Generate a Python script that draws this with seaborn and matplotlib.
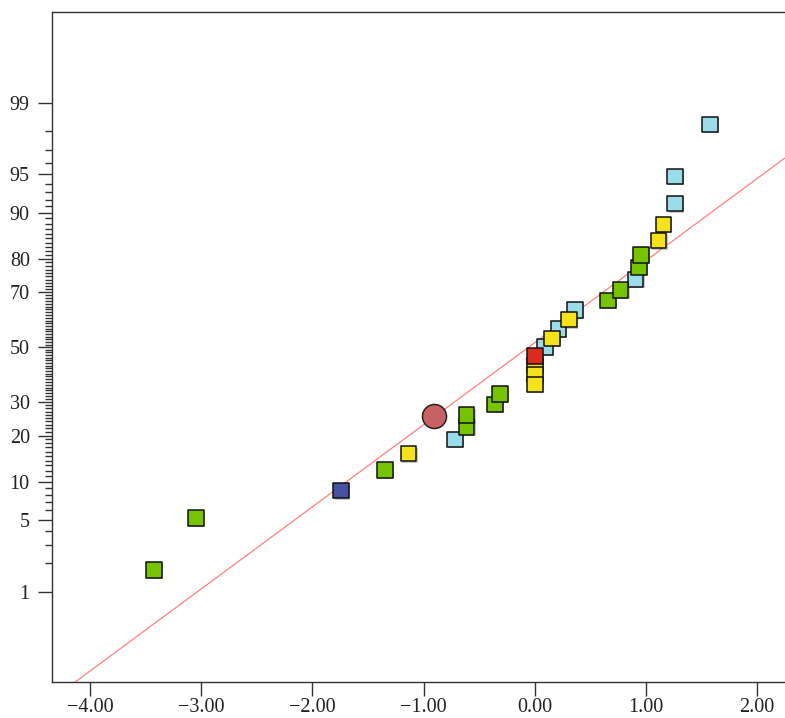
import numpy as np
import pandas as pd
import matplotlib
matplotlib.use("Agg")
import matplotlib.pyplot as plt
import matplotlib.patheffects as pe
from matplotlib.ticker import FixedLocator, FixedFormatter, FuncFormatter
import seaborn as sns
from statistics import NormalDist

# ---- data ----
x_values = [-3.425, -3.048, -1.744, -1.348, -1.135, -0.719, -0.613, -0.613,
            -0.359, -0.314, 0.000, 0.000, 0.000, 0.000, 0.091, 0.154,
            0.211, 0.307, 0.361, 0.657, 0.771, 0.906, 0.936, 0.954,
            1.113, 1.155, 1.260, 1.260, 1.575]
cum_percent = [1.7, 5.2, 8.6, 12.1, 15.5, 19.0, 22.4, 25.9,
               29.3, 32.8, 36.2, 39.7, 43.1, 46.6, 50.0, 53.4,
               56.9, 60.3, 63.8, 67.2, 70.7, 74.1, 77.6, 81.0,
               84.5, 87.9, 91.4, 94.8, 98.3]
groups = ["green", "green", "blue", "green", "yellow", "lightblue", "green", "green",
          "green", "green", "yellow", "yellow", "yellow", "red", "lightblue", "yellow",
          "lightblue", "yellow", "lightblue", "green", "green", "lightblue", "green", "green",
          "yellow", "yellow", "lightblue", "lightblue", "lightblue"]
highlight_x = [-0.907]
highlight_percent = [25.6]
fit_mean = -0.055
fit_sd = 1.28

major_percent = [1, 5, 10, 20, 30, 50, 70, 80, 90, 95, 99]
x_ticks = [-4, -3, -2, -1, 0, 1, 2]

palette = {"green": "#76C400", "lightblue": "#9ADCEA", "yellow": "#F6E21A",
           "red": "#DC2B1C", "blue": "#4651A3"}
layer = {"lightblue": 0, "green": 1, "yellow": 2, "red": 3, "blue": 4}

# ---- probability scale ----
_nd = NormalDist()
_ppf = np.vectorize(_nd.inv_cdf, otypes=[float])
_cdf = np.vectorize(_nd.cdf, otypes=[float])


def fwd(p):
    p = np.clip(np.asarray(p, dtype=float) / 100.0, 1e-12, 1 - 1e-12)
    return _ppf(p)


def inv(z):
    z = np.asarray(z, dtype=float)
    return _cdf(z) * 100.0


sns.set_theme(style="ticks")
plt.rcParams["font.family"] = ["Liberation Serif", "DejaVu Serif"]
plt.rcParams["axes.unicode_minus"] = True

fig = plt.figure(figsize=(7.85, 7.18), dpi=100)
ax = fig.add_axes([52 / 785, (718 - 682.3) / 718, 1 - 52 / 785, (682.3 - 12) / 718])
ax.set_yscale("function", functions=(fwd, inv))

df = pd.DataFrame({"x": x_values, "p": cum_percent, "g": groups})
df["layer"] = df["g"].map(layer)
df["order"] = np.arange(len(df))
# yellows drawn from top to bottom so lower squares overlap upper ones
df["order"] = np.where(df["g"] == "yellow", -df["order"], df["order"])
df = df.sort_values(["layer", "order"])

# fitted normal line
xl = np.array([-4.343, 2.25])
pl = inv((xl - fit_mean) / fit_sd)
ax.plot(xl, pl, color="#FF8080", lw=0.9, zorder=1)

shadow = [pe.SimplePatchShadow(offset=(1.0, -1.0), shadow_rgbFace="#888888", alpha=0.45),
          pe.Normal()]
sns.scatterplot(data=df, x="x", y="p", hue="g", palette=palette, marker="s",
                s=122, edgecolor="#111111", linewidth=1.1, legend=False,
                ax=ax, zorder=3, path_effects=shadow)
sns.scatterplot(x=highlight_x, y=highlight_percent, color="#C86262", marker="o",
                s=300, edgecolor="#222222", linewidth=1.1, legend=False,
                ax=ax, zorder=4)

ax.set_xlim(-4.343, 2.25)
ax.set_ylim(float(inv(-3.19)), float(inv(3.19)))

ax.yaxis.set_major_locator(FixedLocator(major_percent))
ax.yaxis.set_major_formatter(FixedFormatter([str(v) for v in major_percent]))
minor = [v for v in range(2, 99) if v not in major_percent]
ax.yaxis.set_minor_locator(FixedLocator(minor))
ax.yaxis.set_minor_formatter(FixedFormatter([""] * len(minor)))

ax.set_xticks(x_ticks)
ax.xaxis.set_major_formatter(FuncFormatter(lambda v, _: f"{v:.2f}".replace("-", "\u2212")))

ax.set_xlabel("")
ax.set_ylabel("")

for s in ["left", "bottom", "top"]:
    ax.spines[s].set_color("#333333")
    ax.spines[s].set_linewidth(1.0)
ax.spines["right"].set_visible(False)

ax.tick_params(axis="both", which="major", length=10, width=1.0, color="#333333",
               labelsize=14.5, labelcolor="#222222", direction="out")
ax.tick_params(axis="x", which="major", pad=1.5)
ax.tick_params(axis="y", which="major", pad=6)
ax.tick_params(axis="y", which="minor", length=5, width=1.0, color="#333333",
               direction="out")
ax.tick_params(axis="x", which="minor", length=0)

fig.savefig("out.png", dpi=100, facecolor="white")
